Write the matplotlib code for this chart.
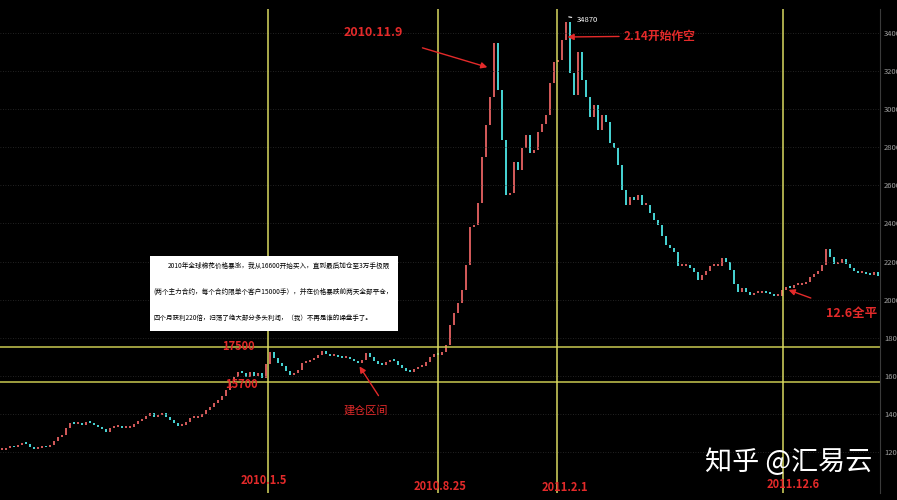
import numpy as np
import matplotlib
matplotlib.use("Agg")
import matplotlib.pyplot as plt
from matplotlib.patches import Rectangle

plt.rcParams['font.family'] = ['Noto Sans CJK SC', 'DejaVu Sans']

# 棉花期货收盘价（每根约4个交易日，从图上估读）
closes = [
    12100, 12200, 12300, 12250, 12350, 12480, 12420, 12260, 12150, 12210,
    12300, 12250, 12370, 12580, 12790, 12900, 13260, 13520, 13470, 13520,
    13420, 13580, 13520, 13420, 13310, 13210, 13050, 13260, 13310, 13370,
    13260, 13260, 13310, 13470, 13630, 13740, 13890, 14050, 13840, 13950,
    14050, 13840, 13680, 13520, 13370, 13420, 13580, 13790, 13790, 13840,
    14000, 14210, 14370, 14580, 14730, 14940, 15260, 15630, 15940, 16200,
    16150, 15940, 16200, 15990, 16150, 15890, 16620, 17250, 16940, 16680,
    16520, 16250, 16050, 16150, 16310, 16680, 16730, 16830, 16940, 17100,
    17300, 17150, 17040, 17100, 16990, 16940, 16940, 16890, 16780, 16680,
    16830, 17200, 16990, 16780, 16620, 16570, 16730, 16830, 16780, 16570,
    16410, 16250, 16200, 16360, 16470, 16520, 16730, 16990, 17150, 17100,
    17250, 17620, 18670, 19300, 19830, 20510, 21820, 23820, 23920, 25080,
    27490, 29170, 30640, 33480, 31010, 28380, 25500, 25600, 27230, 26810,
    27960, 28650, 27700, 27860, 28800, 29220, 29700, 31380, 32480, 32580,
    33630, 34580, 31900, 30750, 33000, 31530, 30640, 29590, 30220, 28910,
    29700, 29330, 28230, 27960, 27070, 25760, 24970, 25390, 25230, 25500,
    24970, 24970, 24550, 24180, 23920, 23340, 22870, 22710, 22500, 21770,
    21770, 21820, 21660, 21450, 21030, 21300, 21510, 21770, 21770, 21770,
    22190, 21980, 21560, 20820, 20400, 20610, 20400, 20250, 20350, 20350,
    20400, 20350, 20300, 20190, 20190, 20510, 20670, 20610, 20770, 20770,
    20820, 20930, 21190, 21350, 21510, 21820, 22660, 22240, 21870, 21930,
    22140, 21870, 21660, 21510, 21400, 21400, 21350, 21300, 21450, 21240,
]
peak_idx = 141
peak_value = 34870

# 竖线对应的K线位置和日期
event_idx = [66.5, 109, 138.75, 195.25]
event_labels = ["2010.1.5", "2010.8.25", "2011.2.1", "2011.12.6"]
event_label_x = [65.5, 109.5, 140.75, 197.75]
event_label_y = [10500, 10180, 10130, 10280]

# 建仓区间上下沿
levels = [17500, 15700]

note_lines = [
    "2010年全球棉花价格暴涨，我从16600开始买入，直到最后加仓至3万手极限",
    "(两个主力合约，每个合约限单个客户15000手），并在价格暴跌前两天全部平仓，",
    "四个月获利220倍，扫荡了绝大部分多头利润，（我）不再是谁的操盘手了。",
]
note_left = [168, 153, 153]
note_right = [392, 395, 372]
note_y = [266, 292, 318]

red = "#e42a2a"
yellow = "#d8d860"

fig = plt.figure(figsize=(8.97, 5.0), dpi=100, facecolor="black")
ax = fig.add_axes([0, 7 / 500, 880 / 897, 484 / 500])
ax.set_facecolor("black")

x = np.arange(len(closes))
c = np.array(closes, dtype=float)
o = np.concatenate([[c[0]], c[:-1]])
up = c >= o
bottom = np.minimum(o, c)
height = np.maximum(np.abs(c - o), 90)
colors = np.where(up, "#d05858", "#45d0d0")
ax.bar(x, height, bottom=bottom, width=0.45, color=colors, linewidth=0)

ax.set_xlim(-0.5, len(closes) - 0.5)
ax.set_ylim(9850, 35260)

# 网格
ax.set_yticks(range(12000, 34001, 2000))
ax.yaxis.tick_right()
ax.tick_params(axis="y", length=0, pad=3, labelsize=5.5, labelcolor="#a0a0a0")
ax.set_xticks([])
ax.grid(axis="y", color="#2e2e2e", linestyle=(0, (1, 2)), linewidth=0.6)
for s in ["top", "left", "bottom"]:
    ax.spines[s].set_visible(False)
ax.spines["right"].set_color("#3a3a3a")

for lv in levels:
    ax.axhline(lv, color="#c8c850", linewidth=1.1)
for ei in event_idx:
    ax.axvline(ei, color=yellow, linewidth=1.1)

for lx, lab, ly in zip(event_label_x, event_labels, event_label_y):
    ax.text(lx, ly, lab, color=red, fontsize=8, fontweight="bold",
            ha="center", va="center")

arrow = dict(arrowstyle="-|>", color=red, lw=1.0, mutation_scale=9)
ax.annotate("2010.11.9", xy=(122, 32160), xytext=(92.7, 34000), color=red,
            fontsize=9, fontweight="bold", ha="center", va="center",
            arrowprops=dict(arrow, shrinkA=14))
ax.annotate("2.14开始作空", xy=(140.7, 33790), xytext=(155.3, 33840), color=red,
            fontsize=8.5, fontweight="bold", ha="left", va="center",
            arrowprops=dict(arrow, shrinkA=1))
ax.annotate(str(peak_value), xy=(peak_idx, peak_value), xytext=(143.8, 34680),
            color="white", fontsize=5.5, ha="left", va="center",
            arrowprops=dict(arrowstyle="-", color="white", lw=0.8))
ax.text(59, 17515, "17500", color=red, fontsize=8, fontweight="bold", ha="center", va="center")
ax.text(59.8, 15570, "15700", color=red, fontsize=8, fontweight="bold", ha="center", va="center")
ax.text(91, 14200, "建仓区间", color=red, fontsize=8, ha="center", va="center")
ax.annotate("", xy=(89, 16620), xytext=(94.5, 14840), arrowprops=arrow)
ax.annotate("12.6全平", xy=(196, 20560), xytext=(212.5, 19300), color=red,
            fontsize=9, fontweight="bold", ha="center", va="center",
            arrowprops=dict(arrow, shrinkA=12))

# 说明文字框
fig.patches.append(Rectangle((150 / 897, 1 - 331 / 500), 248 / 897, 75 / 500,
                             transform=fig.transFigure, facecolor="white",
                             edgecolor="none", zorder=5))
notes = []
for line, lx, ly in zip(note_lines, note_left, note_y):
    notes.append(fig.text(lx / 897, 1 - ly / 500, line, fontsize=5, color="black",
                          ha="left", va="center", zorder=6))
fig.canvas.draw()
renderer = fig.canvas.get_renderer()
for t, lx, rx in zip(notes, note_left, note_right):
    w = t.get_window_extent(renderer).width
    t.set_fontsize(5 * (rx - lx) / w)

fig.text(705 / 897, 1 - 462 / 500, "知乎 @汇易云", fontsize=19.5, color="white",
         ha="left", va="center")

fig.savefig("out.png", dpi=100, facecolor="black")
